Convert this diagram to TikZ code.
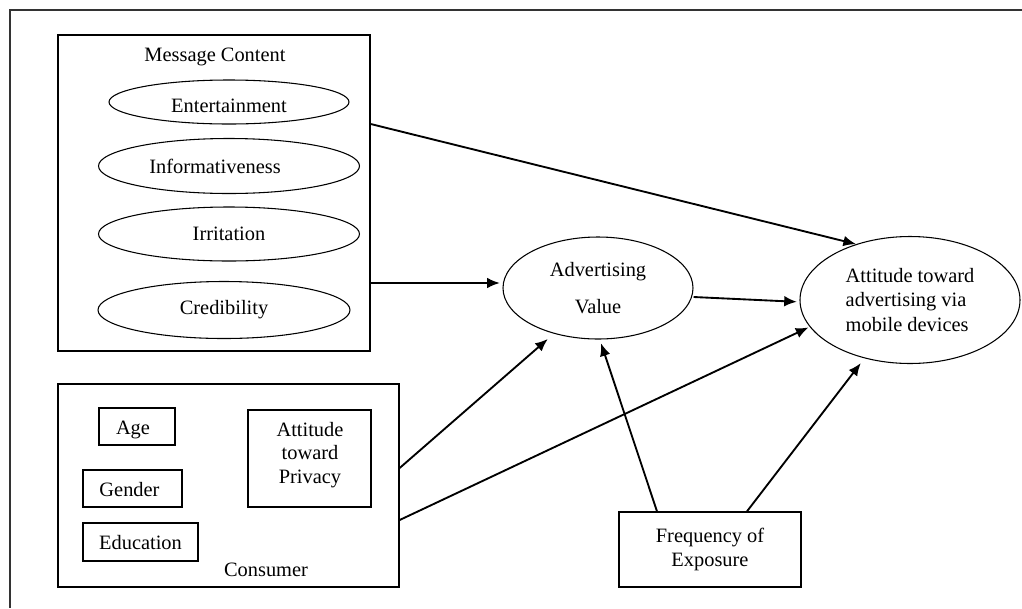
\documentclass[tikz,border=0pt]{standalone}
\usepackage{fontspec}
\setmainfont{Liberation Serif}
\usetikzlibrary{shapes.geometric,arrows.meta}

\tikzset{
  box/.style={draw, line width=1pt, rectangle, inner sep=0pt},
  oval/.style={draw, line width=0.8pt, ellipse, inner sep=0pt},
  arr/.style={line width=1.4pt, -{Latex[length=9.5pt,width=8pt]}},
  frame/.style={line width=1.4pt, draw=black!80},
}

\begin{document}
\begin{tikzpicture}[x=0.75pt, y=-0.75pt,
  every node/.style={font=\fontsize{15.3}{18.5}\selectfont}]
\useasboundingbox (0,0) rectangle (1022,608);

% page frame (top and left edges)
\draw[frame] (1022,10) -- (10,10) -- (10,608);

% message content group
\node[box, minimum width=234pt, minimum height=237pt] (msg) at (214,193) {};
\node (msgtitle) at (215,57) {Message Content};
\node[oval, minimum width=180pt, minimum height=33pt] (ent) at (229,102) {};
\node (enttext) at (229,106) {Entertainment};
\node[oval, minimum width=195.75pt, minimum height=41.25pt] (inf) at (229,166) {Informativeness\kern21pt};
\node[oval, minimum width=195.75pt, minimum height=40.5pt] (irr) at (229,234) {Irritation};
\node[oval, minimum width=189pt, minimum height=42.75pt] (cred) at (224,310) {Credibility};

% consumer group
\node[box, minimum width=255.75pt, minimum height=152.25pt] (cons) at (228.5,485.5) {};
\node[box, minimum width=57pt, minimum height=27.75pt] (age) at (137,426.5) {};
\node (agetext) at (133,430) {Age};
\node[box, minimum width=74.25pt, minimum height=27.75pt] (gen) at (132.5,488.5) {};
\node (gentext) at (129.5,490) {Gender};
\node[box, minimum width=86.25pt, minimum height=28.5pt] (edu) at (140.5,542) {};
\node (edutext) at (140.5,543) {Education};
\node[box, minimum width=92.25pt, minimum height=72.75pt] (priv) at (309.5,458.5) {};
\node[align=center, font=\fontsize{15.3}{17.6}\selectfont] (privtext) at (310,455)
  {Attitude\\toward\\Privacy};
\node (conslabel) at (266,570) {Consumer};

% frequency of exposure
\node[box, minimum width=136.5pt, minimum height=56.25pt, align=center] (freq) at (710,549.5)
  {Frequency of\\Exposure};

% outcome constructs
\node[oval, minimum width=142.5pt, minimum height=76.5pt, align=center] (av) at (598,288)
  {Advertising\\[9pt]Value};
\node[oval, minimum width=165pt, minimum height=95.25pt, align=left] (att) at (910,300)
  {Attitude toward\\advertising via\\mobile devices};

% paths
\draw[arr] (msg.east |- 0,124) -- (att.134.5);
\draw[arr, shorten >=2pt] (msg.east |- 0,283) -- (av.west |- 0,283);
\draw[arr, shorten >=2pt] (av.east |- 0,297) -- (att.181);
\draw[arr, shorten >=6pt] (cons.east |- 0,468) -- (av.226);
\draw[arr, shorten >=1pt] (cons.east |- 0,520) -- (att.195.6);
\draw[arr, shorten >=3pt] (freq.north -| 657,0) -- (av.272);
\draw[arr, shorten >=4.5pt] (freq.north -| 747,0) -- (att.232.7);
\end{tikzpicture}
\end{document}
